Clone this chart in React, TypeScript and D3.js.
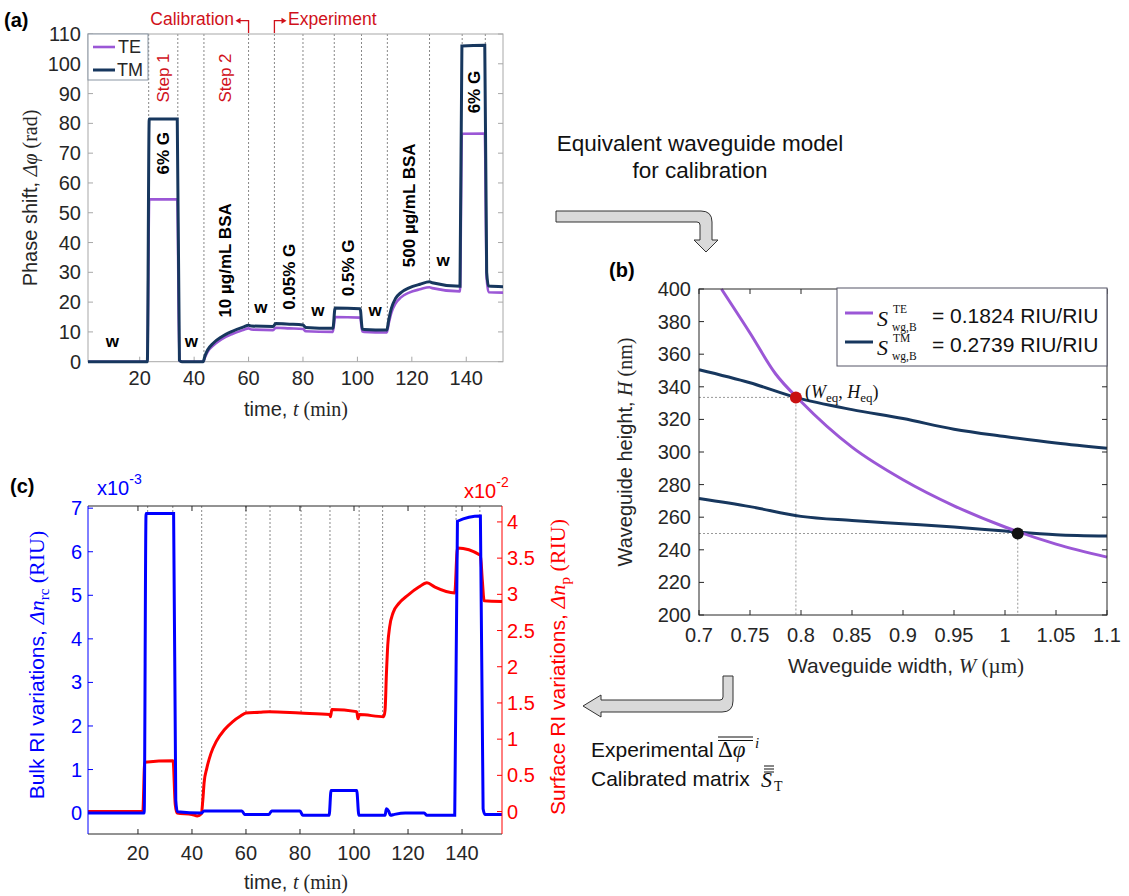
import React from 'react';
import * as d3 from 'd3';

// ---------- panel (a): phase shift vs time ----------
const timeA = [1, 22.8, 23.5, 33.8, 34.6, 35.5, 43.3, 44, 45, 47, 50, 54, 58, 60, 61, 69, 70, 75, 80, 81, 91, 91.8, 101, 101.8, 102.5, 110.8, 111.5, 112.5, 114, 116, 119, 123, 126.5, 127.5, 137.7, 138.4, 146.8, 147.5, 148.2, 153.5];
const tmA = [0, 0, 81.5, 81.5, 0.5, 0, 0, 2, 4, 6.2, 8.3, 10.2, 11.6, 12.2, 12, 11.8, 12.8, 12.6, 12.3, 11.5, 11.2, 18, 17.8, 11, 10.8, 10.6, 14, 18, 21.2, 23.2, 24.8, 26, 26.8, 26.5, 25.3, 106, 106.2, 30, 25.4, 25.2];
const teA = [0, 0, 54.5, 54.5, 0.3, 0, 0, 1.5, 3.4, 5.4, 7.5, 9.3, 10.6, 11.2, 10.8, 10.6, 11.4, 11.2, 11, 10.2, 10, 15, 14.8, 10.2, 10, 9.8, 12.8, 16.5, 19.5, 21.6, 23.2, 24.3, 25, 24.7, 23.6, 76.5, 76.6, 28, 23.3, 23.2];
const eventsA = [23.3, 34, 43.6, 60, 69.5, 80, 91.5, 101.5, 111, 126.5, 138.5, 147];
const eventEndA = [81.5, 81.5, 0, 12.2, 12, 12.3, 18, 17.8, 10.6, 26.8, 106, 106.2];
const stepLabels = [
  { t: 28.5, v: 70, text: '6% G' },
  { t: 51.5, v: 34, text: '10 µg/mL BSA' },
  { t: 75, v: 28.5, text: '0.05% G' },
  { t: 96.5, v: 31.5, text: '0.5% G' },
  { t: 119, v: 52.5, text: '500 µg/mL BSA' },
  { t: 142.8, v: 90.5, text: '6% G' },
];
const washLabels = [
  { t: 10, v: 5 }, { t: 39, v: 5 }, { t: 64.5, v: 16.5 },
  { t: 85.5, v: 15.5 }, { t: 106.5, v: 15.5 }, { t: 131.5, v: 32 },
];
const ticksA_y = d3.range(0, 111, 10);
const ticksA_x = [20, 40, 60, 80, 100, 120, 140];

// ---------- panel (b): equivalent waveguide model ----------
const teW = [0.722, 0.75, 0.775, 0.8, 0.85, 0.9, 0.95, 1.0, 1.05, 1.1];
const teH = [400, 373, 348, 331, 303, 283, 267, 254, 243.5, 235.5];
const tmUpW = [0.7, 0.75, 0.795, 0.85, 0.9, 0.95, 1.0, 1.05, 1.1];
const tmUpH = [350.5, 342.5, 333.5, 326, 320.5, 314, 309.5, 305.5, 302.3];
const tmLowW = [0.7, 0.75, 0.8, 0.85, 0.9, 0.95, 1.0, 1.05, 1.1];
const tmLowH = [271.5, 266.5, 260.5, 258, 256, 254, 251.5, 249.3, 248.5];
const eqPoint = { w: 0.795, h: 333.5 };
const otherPoint = { w: 1.0125, h: 250 };
const legendB = [{ sup: 'TE', val: '0.1824' }, { sup: 'TM', val: '0.2739' }];
const ticksB_x = d3.range(0, 9).map(i => +(0.7 + i * 0.05).toFixed(2));
const ticksB_y = d3.range(200, 401, 20);

// ---------- panel (c): RI variations ----------
const blueT = [1.5, 22.3, 23, 33.2, 34, 34.6, 43.5, 44.5, 58.5, 59.5, 68.5, 69.5, 80, 81, 90.8, 91.5, 101, 101.8, 111.5, 112, 112.8, 113.5, 115, 119, 126, 127, 137.3, 138.3, 146.8, 147.8, 148.5, 154.8];
const blueV = [0, 0, 6.88, 6.88, 0.3, 0.03, 0, 0.05, 0.05, -0.03, -0.03, 0.05, 0.05, -0.05, -0.05, 0.52, 0.52, -0.05, -0.05, 0.1, 0.05, -0.05, -0.03, 0, 0, -0.05, -0.05, 6.7, 6.82, 0.1, -0.03, -0.03];
const redT = [1.5, 21.8, 22.5, 33, 33.8, 34.5, 40, 42, 43.5, 44, 44.5, 45.5, 47, 49, 52, 55, 58, 60, 65, 68.5, 80, 91, 91.3, 91.8, 101, 101.5, 102, 111, 111.5, 112, 112.5, 113.2, 114.5, 116.5, 120, 124, 127, 130, 137.3, 138.3, 146.8, 147.5, 148.2, 154.8];
const redV = [0, 0, 0.68, 0.7, 0.1, -0.02, -0.04, -0.06, -0.03, 0.15, 0.4, 0.6, 0.8, 0.97, 1.13, 1.24, 1.32, 1.36, 1.37, 1.38, 1.36, 1.34, 1.31, 1.41, 1.38, 1.28, 1.34, 1.31, 1.4, 1.9, 2.3, 2.55, 2.75, 2.87, 2.99, 3.1, 3.16, 3.1, 3.02, 3.64, 3.54, 3.2, 2.91, 2.9];
const eventsC = [23.6, 32.9, 43.6, 60, 68.9, 80.4, 91.1, 101.9, 110.6, 126.2, 137.8, 146.6];
const eventEndC = [
  { v: 6.88, axis: 'L' }, { v: 6.88, axis: 'L' }, { v: 0, axis: 'L' }, { v: 1.36, axis: 'R' },
  { v: 1.38, axis: 'R' }, { v: 1.36, axis: 'R' }, { v: 1.41, axis: 'R' }, { v: 1.36, axis: 'R' },
  { v: 1.31, axis: 'R' }, { v: 3.16, axis: 'R' }, { v: 6.7, axis: 'L' }, { v: 6.82, axis: 'L' },
];
const ticksC_left = d3.range(0, 8);
const ticksC_right = d3.range(0, 4.01, 0.5);
const ticksC_x = [20, 40, 60, 80, 100, 120, 140];

const SANS = "'Liberation Sans', Arial, sans-serif";
const SERIF = "'Liberation Serif', 'Times New Roman', serif";
const TXT = '#262626';
const PURPLE = '#9b57d6';
const NAVY = '#17375e';
const RED_TXT = '#d0101a';

const fmt = (v: number) => String(+v.toFixed(2));

export default function App() {
  // scales (a)
  const ax = d3.scaleLinear().domain([1, 153.5]).range([88, 503]);
  const ay = d3.scaleLinear().domain([0, 110]).range([361.7, 34]);
  const tmPath = d3.line<number>().x((_, i) => ax(timeA[i])).y((_, i) => ay(tmA[i])).curve(d3.curveMonotoneX)(tmA) || '';
  const tePath = d3.line<number>().x((_, i) => ax(timeA[i])).y((_, i) => ay(teA[i])).curve(d3.curveMonotoneX)(teA) || '';

  // scales (b)
  const bx = d3.scaleLinear().domain([0.7, 1.1]).range([699, 1107]);
  const by = d3.scaleLinear().domain([200, 400]).range([615, 289]);
  const mk = (ws: number[], hs: number[]) =>
    d3.line<number>().x((_, i) => bx(ws[i])).y((_, i) => by(hs[i])).curve(d3.curveMonotoneX)(ws) || '';

  // scales (c)
  const cx = d3.scaleLinear().domain([1.5, 154.8]).range([88, 502]);
  const cyL = d3.scaleLinear().domain([-0.48, 7.05]).range([834, 506]);
  const cyR = d3.scaleLinear().domain([-0.31, 4.22]).range([834, 506]);
  const bluePath = d3.line<number>().x((_, i) => cx(blueT[i])).y((_, i) => cyL(blueV[i])).curve(d3.curveMonotoneX)(blueV) || '';
  const redPath = d3.line<number>().x((_, i) => cx(redT[i])).y((_, i) => cyR(redV[i])).curve(d3.curveMonotoneX)(redV) || '';

  const TL = 5;

  return (
    <svg width={1129} height={896} style={{ position: 'absolute', left: 0, top: 0, background: '#fff' }} fontFamily={SANS}>
      {/* ================= (a) ================= */}
      <text x={4} y={27} fontSize={20} fontWeight="bold">(a)</text>
      {eventsA.map((t, i) => (
        <line key={'ea' + i} x1={ax(t)} x2={ax(t)} y1={34} y2={ay(eventEndA[i])} stroke="#888" strokeDasharray="2,2" strokeWidth={1} />
      ))}
      <rect x={88} y={34} width={415} height={327.7} fill="none" stroke="#a8a8a8" strokeWidth={1} />
      {ticksA_y.map(v => (
        <g key={'ay' + v}>
          <line x1={88} x2={88 + TL} y1={ay(v)} y2={ay(v)} stroke="#a8a8a8" />
          <line x1={503} x2={503 - TL} y1={ay(v)} y2={ay(v)} stroke="#a8a8a8" />
          <text x={81} y={ay(v) + 7} fontSize={20} textAnchor="end" fill={TXT}>{v}</text>
        </g>
      ))}
      {ticksA_x.map(v => (
        <g key={'ax' + v}>
          <line x1={ax(v)} x2={ax(v)} y1={361.7} y2={361.7 - TL} stroke="#a8a8a8" />
          <text x={ax(v)} y={385} fontSize={20} textAnchor="middle" fill={TXT}>{v}</text>
        </g>
      ))}
      <path d={tePath} fill="none" stroke={PURPLE} strokeWidth={2.6} />
      <path d={tmPath} fill="none" stroke={NAVY} strokeWidth={3} />
      {stepLabels.map((s, i) => (
        <text key={'sl' + i} transform={`translate(${ax(s.t) + 6},${ay(s.v)}) rotate(-90)`} fontSize={17} fontWeight="bold" textAnchor="middle">{s.text}</text>
      ))}
      {washLabels.map((w, i) => (
        <text key={'wl' + i} x={ax(w.t)} y={ay(w.v)} fontSize={17} fontWeight="bold" textAnchor="middle">w</text>
      ))}
      <text transform={`translate(${ax(28.5) + 6},78) rotate(-90)`} fontSize={17} fill={RED_TXT} textAnchor="middle">Step 1</text>
      <text transform={`translate(${ax(51.5) + 6},78) rotate(-90)`} fontSize={17} fill={RED_TXT} textAnchor="middle">Step 2</text>
      {/* calibration / experiment markers */}
      <text x={234} y={25} fontSize={17.5} fill={RED_TXT} textAnchor="end">Calibration</text>
      <path d={`M${ax(60)},33 V20.7 H239`} fill="none" stroke={RED_TXT} strokeWidth={1.3} />
      <path d="M235.5,20.7 l5,-3 v6 z" fill={RED_TXT} />
      <text x={288} y={25} fontSize={17.5} fill={RED_TXT}>Experiment</text>
      <path d={`M${ax(69.5)},33 V20.7 H283`} fill="none" stroke={RED_TXT} strokeWidth={1.3} />
      <path d="M286.5,20.7 l-5,-3 v6 z" fill={RED_TXT} />
      {/* legend */}
      <rect x={88} y={34} width={60} height={46} fill="#fff" stroke="#8a96a3" strokeWidth={1} />
      <line x1={93} x2={115} y1={47} y2={47} stroke={PURPLE} strokeWidth={2.6} />
      <line x1={93} x2={115} y1={70} y2={70} stroke={NAVY} strokeWidth={3} />
      <text x={118} y={53} fontSize={18} fill={TXT}>TE</text>
      <text x={117} y={76} fontSize={18} fill={TXT}>TM</text>
      {/* axis labels */}
      <text transform="translate(37,198) rotate(-90)" fontSize={20} textAnchor="middle" fill={TXT}>
        <tspan>Phase shift, </tspan>
        <tspan fontFamily={SERIF} fontStyle="italic">Δφ</tspan>
        <tspan fontFamily={SERIF}> (rad)</tspan>
      </text>
      <text x={296} y={416} fontSize={20} textAnchor="middle" fill={TXT}>
        <tspan>time, </tspan>
        <tspan fontFamily={SERIF} fontStyle="italic">t</tspan>
        <tspan fontFamily={SERIF}> (min)</tspan>
      </text>

      {/* ================= arrows & notes ================= */}
      <text x={700} y={151} fontSize={22.5} textAnchor="middle" fill="#111">Equivalent waveguide model</text>
      <text x={700} y={178} fontSize={22.5} textAnchor="middle" fill="#111">for calibration</text>
      <path d="M556,211 L701,211 Q712,211 712,222 L712,240 L718,240 L706,252 L694,240 L700,240 L700,225 Q700,222 697,222 L556,222 Z"
        fill="#d9d9d9" stroke="#333" strokeWidth={1} />
      <path d="M723,676 L733,676 L733,701 Q733,712 722,712 L601,712 L601,717 L583,706 L601,695 L601,700 L720,700 Q723,700 723,697 Z"
        fill="#d9d9d9" stroke="#333" strokeWidth={1} />
      <text x={591} y={757} fontSize={21} fill="#111">Experimental</text>
      <text x={718} y={757} fontSize={23} fontFamily={SERIF} fill="#111">
        <tspan>Δ</tspan><tspan fontStyle="italic">φ</tspan>
      </text>
      <line x1={718} x2={753} y1={737} y2={737} stroke="#111" strokeWidth={1.1} />
      <line x1={718} x2={753} y1={740.5} y2={740.5} stroke="#111" strokeWidth={1.1} />
      <text x={755} y={748} fontSize={15} fontFamily={SERIF} fontStyle="italic" fill="#111">i</text>
      <text x={591} y={786} fontSize={21} fill="#111">Calibrated matrix</text>
      <text x={761} y={787} fontSize={22} fontFamily={SERIF} fontStyle="italic" fill="#111">S</text>
      <line x1={764} x2={774} y1={766} y2={766} stroke="#111" strokeWidth={1} />
      <line x1={764} x2={774} y1={769} y2={769} stroke="#111" strokeWidth={1} />
      <line x1={764} x2={774} y1={772} y2={772} stroke="#111" strokeWidth={1} />
      <text x={774} y={791} fontSize={14} fontFamily={SERIF} fill="#111">T</text>

      {/* ================= (b) ================= */}
      <text x={609} y={277} fontSize={20} fontWeight="bold">(b)</text>
      <path d={`M699,${by(eqPoint.h)} H${bx(eqPoint.w)} V615`} fill="none" stroke="#999" strokeDasharray="2,2" />
      <path d={`M699,${by(otherPoint.h)} H${bx(otherPoint.w)} V615`} fill="none" stroke="#999" strokeDasharray="2,2" />
      <path d={mk(tmUpW, tmUpH)} fill="none" stroke={NAVY} strokeWidth={3} />
      <path d={mk(tmLowW, tmLowH)} fill="none" stroke={NAVY} strokeWidth={3} />
      <path d={mk(teW, teH)} fill="none" stroke={PURPLE} strokeWidth={3} />
      <circle cx={bx(eqPoint.w)} cy={by(eqPoint.h)} r={6} fill="#c81010" />
      <circle cx={bx(otherPoint.w)} cy={by(otherPoint.h)} r={6} fill="#111" />
      <rect x={699} y={289} width={408} height={326} fill="none" stroke={TXT} strokeWidth={1} />
      {ticksB_y.map(v => (
        <g key={'by' + v}>
          <line x1={699} x2={699 + TL} y1={by(v)} y2={by(v)} stroke={TXT} />
          <line x1={1107} x2={1107 - TL} y1={by(v)} y2={by(v)} stroke={TXT} />
          <text x={691} y={by(v) + 7} fontSize={20} textAnchor="end" fill={TXT}>{v}</text>
        </g>
      ))}
      {ticksB_x.map(v => (
        <g key={'bx' + v}>
          <line x1={bx(v)} x2={bx(v)} y1={615} y2={615 - TL} stroke={TXT} />
          <line x1={bx(v)} x2={bx(v)} y1={289} y2={289 + TL} stroke={TXT} />
          <text x={bx(v)} y={642} fontSize={20} textAnchor="middle" fill={TXT}>{fmt(v)}</text>
        </g>
      ))}
      <text x={bx(eqPoint.w) + 9} y={398} fontSize={18} fontFamily={SERIF} fill="#111">
        <tspan>(</tspan><tspan fontStyle="italic">W</tspan>
        <tspan fontSize={13} dy={4}>eq</tspan>
        <tspan dy={-4}>, </tspan><tspan fontStyle="italic">H</tspan>
        <tspan fontSize={13} dy={4}>eq</tspan>
        <tspan dy={-4}>)</tspan>
      </text>
      {/* legend (b) */}
      <rect x={837} y={288} width={270} height={78} fill="#fff" stroke="#556" strokeWidth={1} />
      {legendB.map((r, i) => {
        const y = 323 + i * 29;
        return (
          <g key={r.sup}>
            <line x1={845} x2={873} y1={y - 10} y2={y - 10} stroke={i === 0 ? PURPLE : NAVY} strokeWidth={3} />
            <text x={877} y={y + 3} fontSize={22} fontFamily={SERIF} fontStyle="italic" fill="#111">S</text>
            <text x={893} y={y - 10} fontSize={11.5} fontFamily={SERIF} fill="#111">{r.sup}</text>
            <text x={892} y={y + 8} fontSize={11.5} fontFamily={SERIF} fill="#111">wg,B</text>
            <text x={932} y={y} fontSize={21} fill="#111">= {r.val} RIU/RIU</text>
          </g>
        );
      })}
      <text transform="translate(632,452) rotate(-90)" fontSize={20} textAnchor="middle" fill={TXT}>
        <tspan>Waveguide height, </tspan>
        <tspan fontFamily={SERIF} fontStyle="italic">H</tspan>
        <tspan fontFamily={SERIF}> (nm)</tspan>
      </text>
      <text x={906} y={673} fontSize={21} textAnchor="middle" fill={TXT}>
        <tspan>Waveguide width,  </tspan>
        <tspan fontFamily={SERIF} fontStyle="italic">W</tspan>
        <tspan fontFamily={SERIF}> (µm)</tspan>
      </text>

      {/* ================= (c) ================= */}
      <text x={10} y={493} fontSize={20} fontWeight="bold">(c)</text>
      {eventsC.map((t, i) => (
        <line key={'ec' + i} x1={cx(t)} x2={cx(t)} y1={506}
          y2={eventEndC[i].axis === 'L' ? cyL(eventEndC[i].v) : cyR(eventEndC[i].v)}
          stroke="#888" strokeDasharray="2,2" strokeWidth={1} />
      ))}
      <path d={redPath} fill="none" stroke="#ff0000" strokeWidth={3} />
      <path d={bluePath} fill="none" stroke="#0000ff" strokeWidth={3} />
      <line x1={88} x2={502} y1={506} y2={506} stroke={TXT} />
      <line x1={88} x2={502} y1={834} y2={834} stroke={TXT} />
      <line x1={88} x2={88} y1={506} y2={834} stroke="#0000ff" />
      <line x1={502} x2={502} y1={506} y2={834} stroke="#ff0000" />
      {ticksC_left.map(v => (
        <g key={'cl' + v}>
          <line x1={88} x2={88 + TL} y1={cyL(v)} y2={cyL(v)} stroke="#0000ff" />
          <text x={82} y={cyL(v) + 7} fontSize={20} textAnchor="end" fill="#0000ff">{v}</text>
        </g>
      ))}
      {ticksC_right.map(v => (
        <g key={'cr' + v}>
          <line x1={502} x2={502 - TL} y1={cyR(v)} y2={cyR(v)} stroke="#ff0000" />
          <text x={507} y={cyR(v) + 7} fontSize={20} fill="#ff0000">{fmt(v)}</text>
        </g>
      ))}
      {ticksC_x.map(v => (
        <g key={'cx' + v}>
          <line x1={cx(v)} x2={cx(v)} y1={834} y2={834 - TL} stroke={TXT} />
          <line x1={cx(v)} x2={cx(v)} y1={506} y2={506 + TL} stroke={TXT} />
          <text x={cx(v)} y={860} fontSize={20} textAnchor="middle" fill={TXT}>{v}</text>
        </g>
      ))}
      <text x={97} y={495} fontSize={20} fill="#0000ff">x10<tspan fontSize={14} dy={-11}>-3</tspan></text>
      <text x={464} y={498} fontSize={20} fill="#ff0000">x10<tspan fontSize={14} dy={-11}>-2</tspan></text>
      <text transform="translate(44,665) rotate(-90)" fontSize={21} textAnchor="middle" fill="#0000ff">
        <tspan>Bulk RI variations,  </tspan>
        <tspan fontFamily={SERIF} fontStyle="italic" fontSize={22}>Δn</tspan>
        <tspan fontFamily={SERIF} fontSize={15} dy={5}>rc</tspan>
        <tspan fontFamily={SERIF} fontSize={22} dy={-5}> (RIU)</tspan>
      </text>
      <text transform="translate(565,667) rotate(-90)" fontSize={21} textAnchor="middle" fill="#ff0000">
        <tspan>Surface RI variations,  </tspan>
        <tspan fontFamily={SERIF} fontStyle="italic" fontSize={22}>Δn</tspan>
        <tspan fontFamily={SERIF} fontSize={15} dy={5}>p</tspan>
        <tspan fontFamily={SERIF} fontSize={22} dy={-5}> (RIU)</tspan>
      </text>
      <text x={296} y={889} fontSize={20} textAnchor="middle" fill={TXT}>
        <tspan>time, </tspan>
        <tspan fontFamily={SERIF} fontStyle="italic">t</tspan>
        <tspan fontFamily={SERIF}> (min)</tspan>
      </text>
    </svg>
  );
}
